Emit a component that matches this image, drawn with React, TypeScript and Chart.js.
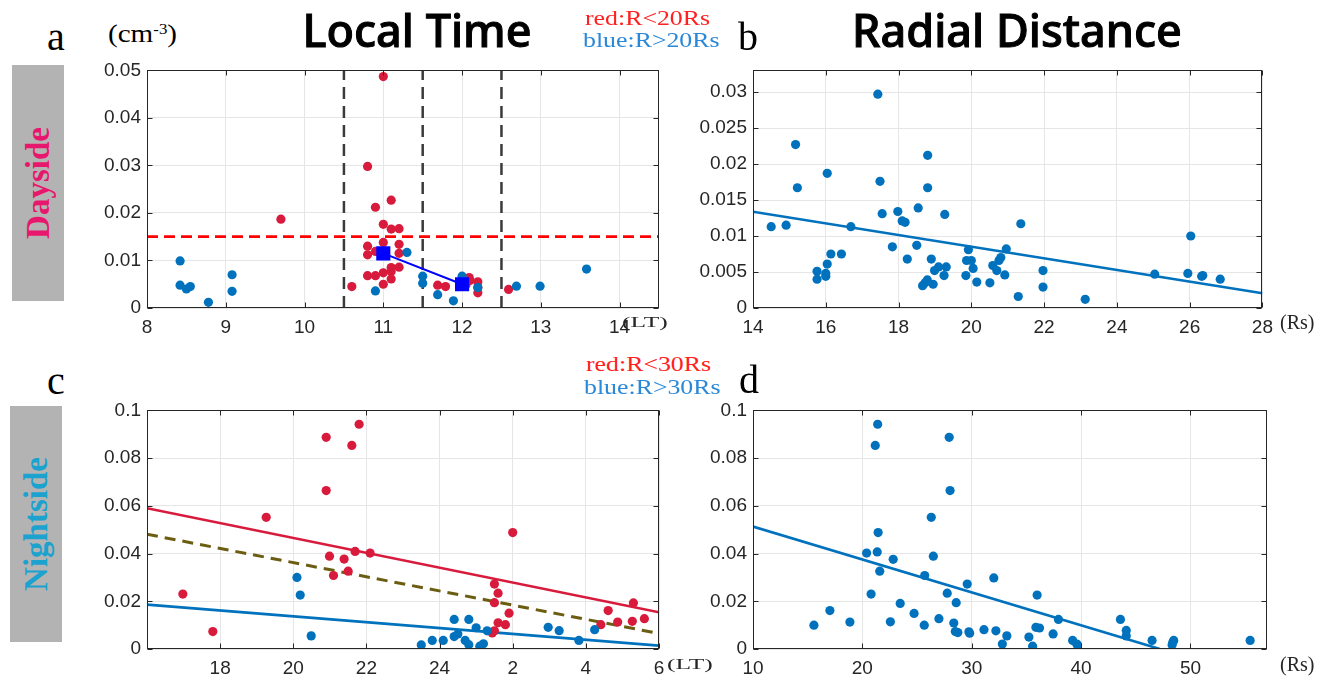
import React, { useEffect, useRef } from 'react';
import { Chart, registerables } from 'chart.js';

Chart.register(...registerables);

// ---------------- data ----------------
// Panel a: dayside density vs local time
const dayRed: number[][] = [
  [9.7, 0.0187], [10.6, 0.0045], [10.8, 0.0298], [10.9, 0.0212], [11.0, 0.0487], [11.1, 0.0227],
  [11.0, 0.0176], [11.1, 0.0166], [11.2, 0.0167], [11.0, 0.0138], [10.8, 0.013], [11.2, 0.0134],
  [10.9, 0.0119], [10.8, 0.0112], [11.2, 0.0115], [11.1, 0.0085], [11.2, 0.0086], [11.1, 0.0077],
  [11.0, 0.0074], [10.8, 0.0068], [10.9, 0.0068], [11.1, 0.0061], [11.0, 0.005], [11.69, 0.0048],
  [11.79, 0.0045], [12.09, 0.0064], [12.2, 0.0055], [12.2, 0.0043], [12.2, 0.0032], [12.1, 0.0058],
  [12.05, 0.0049], [12.59, 0.0039],
];
const dayBlue: number[][] = [
  [8.42, 0.0099], [8.42, 0.0048], [8.5, 0.004], [8.55, 0.0045], [8.78, 0.0012], [9.08, 0.007],
  [9.08, 0.0035], [10.9, 0.0036], [11.3, 0.0117], [11.5, 0.0067], [11.5, 0.0052], [11.69, 0.0028],
  [11.89, 0.0015], [12.0, 0.0067], [12.2, 0.0043], [12.69, 0.0046], [12.99, 0.0046], [13.58, 0.0082],
];
const dayMeanLT = [11, 12];
const dayMean = [0.0115, 0.0050];
const dayBoundaryLT = [10.5, 11.5, 12.5];
const dayThreshold = 0.015;

// Panel b: dayside density vs radial distance
const dayRadial: number[][] = [
  [14.5, 0.0113], [14.91, 0.0115], [15.17, 0.0227], [15.22, 0.0167], [15.76, 0.0051], [15.76, 0.004],
  [16.0, 0.0048], [16.0, 0.0044], [16.04, 0.0061], [16.04, 0.0187], [16.14, 0.0075], [16.43, 0.0075],
  [16.69, 0.0113], [17.43, 0.0297], [17.49, 0.0176], [17.55, 0.0131], [17.83, 0.0085], [17.98, 0.0134],
  [18.1, 0.0121], [18.18, 0.0119], [18.24, 0.0068], [18.5, 0.0087], [18.54, 0.0139], [18.66, 0.0031],
  [18.73, 0.0035], [18.79, 0.0039], [18.8, 0.0212], [18.8, 0.0167], [18.9, 0.0068], [18.95, 0.0033],
  [18.99, 0.0052], [19.1, 0.0057], [19.25, 0.0045], [19.27, 0.013], [19.31, 0.0057], [19.85, 0.0045],
  [19.87, 0.0066], [19.92, 0.0081], [20.0, 0.0066], [20.05, 0.0055], [20.15, 0.0036], [20.51, 0.0035],
  [20.59, 0.0059], [20.7, 0.0052], [20.76, 0.0066], [20.81, 0.007], [20.92, 0.0046], [20.96, 0.0082],
  [21.29, 0.0016], [21.36, 0.0117], [21.97, 0.0052], [21.97, 0.0029], [23.13, 0.0012], [25.04, 0.0047],
  [25.95, 0.0048], [26.03, 0.01], [26.33, 0.0044], [26.36, 0.0045], [26.84, 0.004],
];
const dayRadialFit: number[][] = [[14, 0.01336], [28, 0.00205]];

// Panel c: nightside density vs local time (hours after midnight shown as +24)
const nightRed: number[][] = [
  [16.98, 0.023], [17.8, 0.0073], [19.26, 0.0552], [20.9, 0.0887], [20.9, 0.0664], [20.99, 0.0389],
  [21.1, 0.0308], [21.39, 0.0377], [21.5, 0.0326], [21.6, 0.0853], [21.69, 0.0409], [21.8, 0.0942],
  [22.1, 0.0402], [25.44, 0.0067], [25.5, 0.0076], [25.5, 0.0194], [25.5, 0.0272], [25.6, 0.0234],
  [25.6, 0.011], [25.8, 0.0102], [25.9, 0.015], [26.0, 0.0488], [28.41, 0.0102], [28.61, 0.0161],
  [28.87, 0.0113], [29.27, 0.0116], [29.3, 0.0193], [29.6, 0.0127],
];
const nightBlue: number[][] = [
  [20.1, 0.03], [20.19, 0.0226], [20.49, 0.0055], [23.5, 0.0017], [23.8, 0.0036], [24.1, 0.0036],
  [24.4, 0.0124], [24.4, 0.0052], [24.5, 0.0063], [24.7, 0.0036], [24.8, 0.0124], [24.8, 0.0018],
  [25.0, 0.0089], [25.1, 0.0012], [25.2, 0.0022], [25.3, 0.0076], [26.97, 0.0091], [27.27, 0.0077],
  [27.81, 0.0036], [28.24, 0.0081],
];
const nightFitRed: number[][] = [[16, 0.059], [30, 0.0154]];
const nightFitAll: number[][] = [[16, 0.0481], [30, 0.0065]];
const nightFitBlue: number[][] = [[16, 0.0186], [30, 0.0014]];
const nightLTTicks = [18, 20, 22, 24, 26, 28, 30];
const nightLTLabels = ['18', '20', '22', '24', '2', '4', '6'];

// Panel d: nightside density vs radial distance
const nightRadial: number[][] = [
  [15.57, 0.01], [17.03, 0.0161], [18.86, 0.0113], [20.39, 0.0402], [20.8, 0.023], [21.18, 0.0853],
  [21.36, 0.0407], [21.4, 0.0942], [21.44, 0.0488], [21.59, 0.0326], [22.56, 0.0114], [22.82, 0.0376],
  [23.46, 0.0191], [24.73, 0.0149], [25.66, 0.01], [25.7, 0.0308], [26.3, 0.0552], [26.49, 0.0389],
  [27.0, 0.0127], [27.76, 0.0234], [27.94, 0.0887], [28.02, 0.0664], [28.36, 0.0109], [28.5, 0.0073],
  [28.58, 0.0194], [28.73, 0.0069], [29.59, 0.0272], [29.74, 0.0072], [29.81, 0.0066], [31.12, 0.0081],
  [32.02, 0.0298], [32.21, 0.0076], [32.8, 0.0021], [33.21, 0.0055], [35.23, 0.005], [35.57, 0.0012],
  [35.87, 0.0091], [35.98, 0.0226], [36.2, 0.0088], [37.44, 0.0063], [37.93, 0.0124], [39.23, 0.0036],
  [39.6, 0.0021], [39.68, 0.0017], [43.6, 0.0124], [44.13, 0.0078], [44.13, 0.0055], [46.49, 0.0036],
  [48.32, 0.0017], [48.39, 0.0028], [48.47, 0.0036], [55.46, 0.0036],
];
const nightRadialFit: number[][] = [[10, 0.0513], [47.2, 0]];

// ---------------- styling ----------------
const RED_DOT = '#d81b3c';
const BLUE_DOT = '#0072bd';
const GRID = '#e6e6e6';
const AXIS = '#262626';
const SERIF = "'Liberation Serif', 'Times New Roman', serif";
const SANS = "'Liberation Sans', Arial, sans-serif";
const TITLE = "'Noto Sans', sans-serif";

const PAD_L = 80, PAD_T = 14, PAD_R = 14, PAD_B = 44;
type Frame = { l: number; t: number; r: number; b: number };
const frameA: Frame = { l: 147, t: 67, r: 659, b: 308 };
const frameB: Frame = { l: 753, t: 67, r: 1267, b: 308 };
const frameC: Frame = { l: 147, t: 407, r: 659, b: 649 };
const frameD: Frame = { l: 753, t: 407, r: 1267, b: 649 };

const pts = (arr: number[][]) => arr.map(([x, y]) => ({ x, y }));
const fmt = (v: number) => String(parseFloat(Number(v).toFixed(4)));

const framePlugin = {
  id: 'matFrame',
  afterDraw(chart: any) {
    const { ctx, chartArea } = chart;
    const l = Math.round(chartArea.left) + 0.5;
    const r = Math.round(chartArea.right) - 0.5;
    const t = Math.round(chartArea.top) + 0.5;
    const b = Math.round(chartArea.bottom) - 0.5;
    ctx.save();
    ctx.strokeStyle = AXIS;
    ctx.lineWidth = 1;
    ctx.strokeRect(l, t, r - l, b - t);
    const tl = 5;
    ctx.beginPath();
    const xs = chart.scales.x;
    xs.ticks.forEach((tk: any) => {
      const p = Math.round(xs.getPixelForValue(tk.value)) + 0.5;
      ctx.moveTo(p, b); ctx.lineTo(p, b - tl);
      ctx.moveTo(p, t); ctx.lineTo(p, t + tl);
    });
    const ys = chart.scales.y;
    ys.ticks.forEach((tk: any) => {
      const p = Math.round(ys.getPixelForValue(tk.value)) + 0.5;
      ctx.moveTo(l, p); ctx.lineTo(l + tl, p);
      ctx.moveTo(r, p); ctx.lineTo(r - tl, p);
    });
    ctx.stroke();
    ctx.restore();
  },
};

function xAxis(min: number, max: number, step: number, cb?: (v: number) => string) {
  return {
    type: 'linear', position: 'bottom', min, max,
    afterFit: (s: any) => { s.height = PAD_B; },
    grid: { color: GRID, drawTicks: false, lineWidth: 1 },
    border: { display: false },
    ticks: {
      stepSize: step, includeBounds: false, autoSkip: false, maxRotation: 0, minRotation: 0,
      padding: 8, color: AXIS, font: { family: SANS, size: 19 },
      callback: (v: any) => (cb ? cb(v) : fmt(v)),
    },
  };
}
function yAxis(min: number, max: number, step: number) {
  return {
    type: 'linear', position: 'left', min, max,
    afterFit: (s: any) => { s.width = PAD_L; },
    grid: { color: GRID, drawTicks: false, lineWidth: 1 },
    border: { display: false },
    ticks: {
      stepSize: step, includeBounds: false, autoSkip: false,
      padding: 6, color: AXIS, font: { family: SANS, size: 19 },
      callback: (v: any) => fmt(v),
    },
  };
}

const dots = (arr: number[][], color: string) => ({
  data: pts(arr), backgroundColor: color, borderWidth: 0, pointRadius: 4.6, showLine: false,
});
const line = (arr: number[][], color: string, width: number, dash: number[] = []) => ({
  data: pts(arr), borderColor: color, borderWidth: width, borderDash: dash, pointRadius: 0,
  showLine: true, fill: false, tension: 0,
});

function baseOptions(scales: any) {
  return {
    animation: false, responsive: false, maintainAspectRatio: false, events: [],
    layout: { padding: { left: 0, top: PAD_T, right: PAD_R, bottom: 0 }, autoPadding: false },
    plugins: { legend: { display: false }, tooltip: { enabled: false }, title: { display: false } },
    scales,
  };
}

function configA() {
  const datasets: any[] = [
    {
      data: dayMeanLT.map((x, i) => ({ x, y: dayMean[i] })),
      borderColor: '#0000ff', backgroundColor: '#0000ff', borderWidth: 2, showLine: true,
      pointStyle: 'rect', pointRadius: 10, pointBorderWidth: 0,
    },
    dots(dayBlue, BLUE_DOT),
    dots(dayRed, RED_DOT),
    line([[8, dayThreshold], [14.5, dayThreshold]], '#ff0000', 2.8, [11, 6]),
    ...dayBoundaryLT.map((x) => line([[x, 0], [x, 0.05]], '#3a3a3a', 2.5, [12, 7])),
  ];
  return { type: 'scatter', data: { datasets }, options: baseOptions({ x: xAxis(8, 14.5, 1), y: yAxis(0, 0.05, 0.01) }), plugins: [framePlugin] };
}
function configB() {
  const datasets: any[] = [dots(dayRadial, BLUE_DOT), line(dayRadialFit, BLUE_DOT, 2.6)];
  return { type: 'scatter', data: { datasets }, options: baseOptions({ x: xAxis(14, 28, 2), y: yAxis(0, 0.033, 0.005) }), plugins: [framePlugin] };
}
function configC() {
  const datasets: any[] = [
    dots(nightBlue, BLUE_DOT),
    dots(nightRed, RED_DOT),
    line(nightFitRed, RED_DOT, 2.6),
    line(nightFitAll, '#6b5e12', 3, [11, 7]),
    line(nightFitBlue, BLUE_DOT, 2.6),
  ];
  const cb = (v: number) => {
    const i = nightLTTicks.indexOf(Math.round(v));
    return i >= 0 ? nightLTLabels[i] : '';
  };
  return { type: 'scatter', data: { datasets }, options: baseOptions({ x: xAxis(16, 30, 2, cb), y: yAxis(0, 0.1, 0.02) }), plugins: [framePlugin] };
}
function configD() {
  const datasets: any[] = [dots(nightRadial, BLUE_DOT), line(nightRadialFit, BLUE_DOT, 2.6)];
  return { type: 'scatter', data: { datasets }, options: baseOptions({ x: xAxis(10, 57, 10), y: yAxis(0, 0.1, 0.02) }), plugins: [framePlugin] };
}

function Panel({ frame, build }: { frame: Frame; build: () => any }) {
  const ref = useRef<HTMLCanvasElement>(null);
  const w = frame.r - frame.l + PAD_L + PAD_R;
  const h = frame.b - frame.t + PAD_T + PAD_B;
  useEffect(() => {
    const chart = new Chart(ref.current as HTMLCanvasElement, build());
    return () => chart.destroy();
  }, []);
  return (
    <canvas
      ref={ref}
      width={w}
      height={h}
      style={{ position: 'absolute', left: frame.l - PAD_L, top: frame.t - PAD_T, width: w, height: h }}
    />
  );
}

const ASC: Record<string, number> = { serif: 0.8375, sans: 0.8465, title: 0.888 };

function Txt(props: {
  x: number; base: number; size: number; kind: 'serif' | 'sans' | 'title'; color?: string;
  weight?: number | string; center?: boolean; sx?: number; stroke?: number; children: React.ReactNode;
}) {
  const { x, base, size, kind, color = '#000', weight = 400, center, sx = 1, stroke = 0, children } = props;
  const fam = kind === 'serif' ? SERIF : kind === 'sans' ? SANS : TITLE;
  const tf: string[] = [];
  if (center) tf.push('translateX(-50%)');
  if (sx !== 1) tf.push(`scaleX(${sx})`);
  return (
    <div
      style={{
        position: 'absolute', left: x, top: base - ASC[kind] * size, fontFamily: fam, fontSize: size,
        lineHeight: 1, color, fontWeight: weight as any, whiteSpace: 'nowrap',
        transform: tf.length ? tf.join(' ') : undefined, transformOrigin: center ? 'center' : 'left',
        WebkitTextStroke: stroke ? `${stroke}px ${color}` : undefined,
      }}
    >
      {children}
    </div>
  );
}

function SideBox({ l, t, w, h, label, color }: { l: number; t: number; w: number; h: number; label: string; color: string }) {
  return (
    <div style={{ position: 'absolute', left: l, top: t, width: w, height: h, background: '#b3b3b3' }}>
      <div
        style={{
          position: 'absolute', left: w / 2, top: h / 2, transform: 'translate(-50%, -50%) rotate(-90deg)',
          fontFamily: SERIF, fontWeight: 700, fontSize: 33, lineHeight: 1, color, whiteSpace: 'nowrap',
        }}
      >
        {label}
      </div>
    </div>
  );
}

export default function App() {
  return (
    <div style={{ position: 'absolute', left: 0, top: 0, width: 1330, height: 681, background: '#fff', overflow: 'hidden' }}>
      <Panel frame={frameA} build={configA} />
      <Panel frame={frameB} build={configB} />
      <Panel frame={frameC} build={configC} />
      <Panel frame={frameD} build={configD} />

      <SideBox l={12} t={65} w={52} h={236} label="Dayside" color="#e8176e" />
      <SideBox l={10} t={406} w={52} h={236} label="Nightside" color="#1ba2cf" />

      <Txt x={47} base={50} size={40} kind="serif">a</Txt>
      <Txt x={738} base={50} size={40} kind="serif">b</Txt>
      <Txt x={47} base={394} size={40} kind="serif">c</Txt>
      <Txt x={739} base={393} size={40} kind="serif">d</Txt>

      <Txt x={108} base={43} size={26} kind="serif" sx={1.12}>
        (cm<sup style={{ fontSize: '0.58em', verticalAlign: '0.55em', lineHeight: 0 }}>-3</sup>)
      </Txt>

      <Txt x={417} base={47} size={45} kind="title" weight={500} stroke={1} center>Local Time</Txt>
      <Txt x={1017} base={47} size={45} kind="title" weight={500} stroke={1} center>Radial Distance</Txt>

      <Txt x={585} base={26} size={21} kind="serif" color="#ff2020" sx={1.23}>red:R&lt;20Rs</Txt>
      <Txt x={583} base={48} size={21} kind="serif" color="#2a88d8" sx={1.23}>blue:R&gt;20Rs</Txt>
      <Txt x={586} base={372} size={21} kind="serif" color="#ff2020" sx={1.23}>red:R&lt;30Rs</Txt>
      <Txt x={584} base={395} size={21} kind="serif" color="#2a88d8" sx={1.23}>blue:R&gt;30Rs</Txt>

      <Txt x={622} base={328} size={15} kind="serif" color={AXIS} sx={1.7}>(LT)</Txt>
      <Txt x={667} base={670} size={15} kind="serif" color={AXIS} sx={1.7}>(LT)</Txt>
      <Txt x={1280} base={329} size={20} kind="serif" color={AXIS}>(Rs)</Txt>
      <Txt x={1280} base={671} size={20} kind="serif" color={AXIS}>(Rs)</Txt>
    </div>
  );
}
